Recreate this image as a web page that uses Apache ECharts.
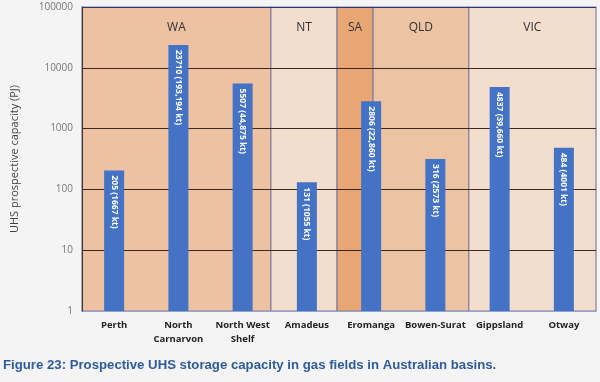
<!DOCTYPE html>
<html><head><meta charset="utf-8">
<script src="https://cdn.jsdelivr.net/npm/echarts@6/dist/echarts.min.js"></script>
<style>html,body{margin:0;padding:0;background:#f4f4f4}#c{width:600px;height:382px}</style>
</head><body><div id="c"></div>
<script>
const categories = ['Perth', 'North\nCarnarvon', 'North West\nShelf', 'Amadeus', 'Eromanga', 'Bowen-Surat', 'Gippsland', 'Otway'];
const capacityPJ = [205, 23710, 5507, 131, 2806, 316, 4837, 484];
const capacityKt = ['1667', '193,194', '44,875', '1055', '22,860', '2573', '39,660', '4001'];
const regionNames = ['WA', 'NT', 'SA', 'QLD', 'VIC'];
const regionStart = [0, 2.94, 3.97, 4.53, 6.02];
const regionEnd = [2.94, 3.97, 4.53, 6.02, 8];
const regionColors = ['#ecc2a2', '#f3ddcd', '#e8a675', '#ecc3a3', '#f3ddcd'];
const yTicks = [1, 10, 100, 1000, 10000, 100000];

const chart = echarts.init(document.getElementById('c'));
const font = 'Liberation Sans, Arial, sans-serif';
chart.setOption({
  backgroundColor: '#f4f4f4',
  animation: false,
  grid: { left: 82, right: 4, top: 7, bottom: 71 },
  xAxis: [{
    type: 'category', data: categories,
    axisLine: { lineStyle: { color: '#8ea6c8', width: 1.5 } },
    axisTick: { show: false },
    axisLabel: { interval: 0, margin: 7, fontSize: 9.5, fontWeight: 'bold', color: '#222', fontFamily: 'Open Sans, sans-serif', lineHeight: 14 }
  }, {
    type: 'value', min: 0, max: 8, show: false
  }],
  yAxis: {
    type: 'log', logBase: 10, min: yTicks[0], max: yTicks[yTicks.length - 1], z: 2,
    name: 'UHS prospective capacity (PJ)', nameLocation: 'middle', nameGap: 62,
    nameTextStyle: { fontSize: 11, color: '#444', fontFamily: 'Open Sans, sans-serif' },
    axisLine: { show: true, lineStyle: { color: '#333' } },
    axisTick: { show: false },
    axisLabel: { fontSize: 10, color: '#777', margin: 9, fontFamily: 'Open Sans, sans-serif', formatter: v => String(Math.round(v)) },
    splitLine: { show: true, lineStyle: { color: ['#8ea6c8', '#3a2a22', '#3a2a22', '#3a2a22', '#3a2a22', '#2c3a70'], width: 1.2 } }
  },
  series: [{
    type: 'scatter', xAxisIndex: 1, z: 1, silent: true,
    data: [[0, 1]], symbolSize: 0,
    markArea: {
      silent: true,
      label: { position: 'insideTop', distance: 15, fontSize: 12, color: '#333', fontFamily: 'Open Sans, sans-serif' },
      data: regionNames.map((n, i) => [
        { name: n, xAxis: regionStart[i], itemStyle: { color: regionColors[i], borderColor: '#857f9f', borderWidth: 1.2 } },
        { xAxis: regionEnd[i] }
      ])
    }
  }, {
    type: 'bar', z: 3, data: capacityPJ, barWidth: 20,
    itemStyle: { color: '#4472c4' },
    label: {
      show: true, position: 'insideTop', rotate: -90, distance: 5, align: 'left', verticalAlign: 'middle',
      fontSize: 8.5, color: '#fff', fontWeight: 'bold', fontFamily: 'Open Sans, sans-serif',
      formatter: p => capacityPJ[p.dataIndex] + ' (' + capacityKt[p.dataIndex] + ' kt)'
    }
  }],
  graphic: [{
    type: 'text', left: 3, top: 359,
    style: { text: 'Figure 23: Prospective UHS storage capacity in gas fields in Australian basins.', font: 'bold 13.2px ' + font, fill: '#2f5b9b' }
  }]
});
</script></body></html>
